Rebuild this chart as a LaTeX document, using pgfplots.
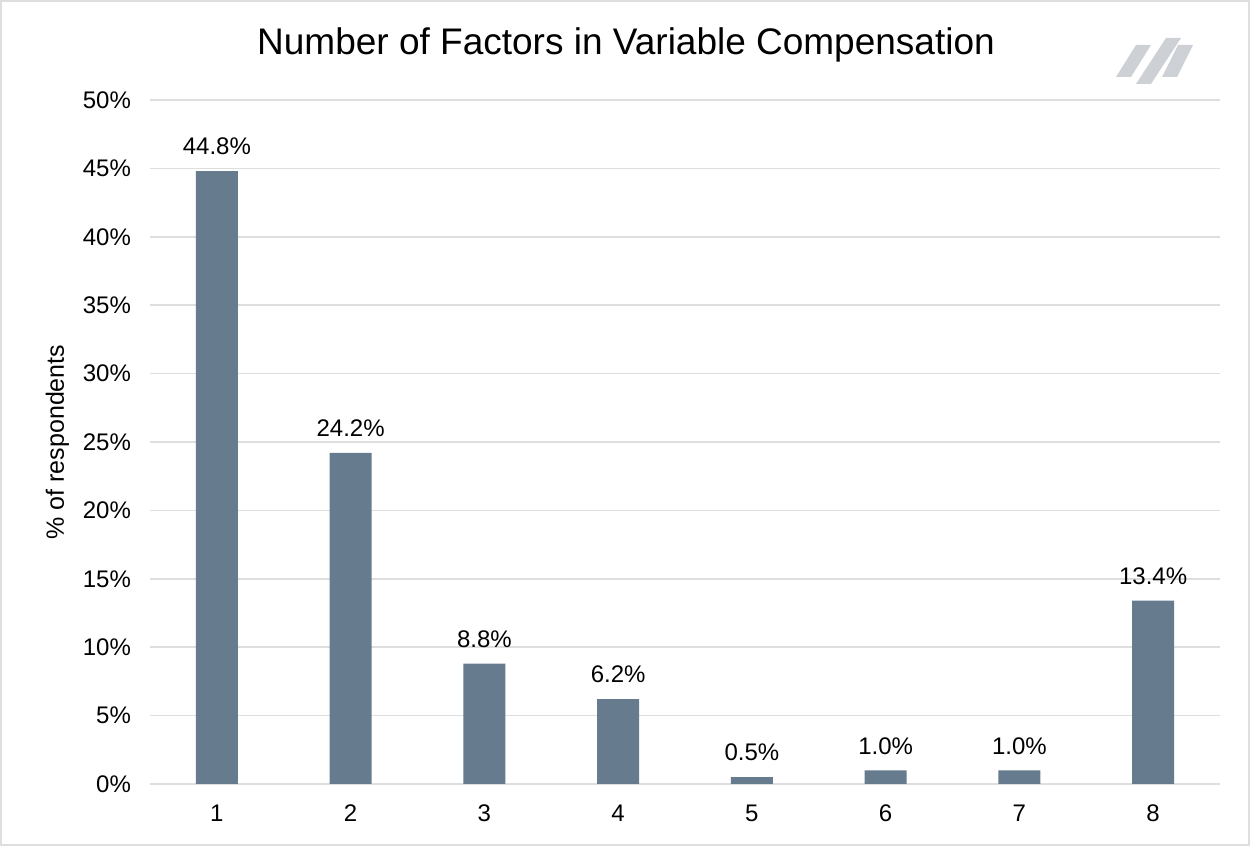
\documentclass[border=0pt]{standalone}
\usepackage{pgfplots}
\pgfplotsset{compat=1.18}
\usepackage{fontspec}
\setmainfont{Liberation Sans}
\definecolor{barc}{RGB}{102,123,142}
\definecolor{gridc}{RGB}{222,222,222}
\definecolor{logoc}{RGB}{205,209,213}
\begin{document}
\begin{tikzpicture}[x=0.5pt,y=0.5pt]
\useasboundingbox (0,0) rectangle (1250,846);
\draw[gridc,line width=1pt] (1,1) rectangle (1249,845);
% title
\node[font=\fontsize{18.5}{20}\selectfont] at (626,801) {Number of Factors in Variable Compensation};
% logo
\fill[logoc] (1116,769) -- (1131,769) -- (1151,801) -- (1136,801) -- cycle;
\fill[logoc] (1136,762) -- (1151,762) -- (1181,808) -- (1166,808) -- cycle;
\fill[logoc] (1162,769) -- (1177,769) -- (1193,801) -- (1178,801) -- cycle;
\begin{axis}[
  at={(150pt*0.5,62pt*0.5)}, anchor=south west,
  scale only axis,
  width=535pt, height=342pt,
  xmin=0.5, xmax=8.5, ymin=0, ymax=50,
  xtick={1,...,8}, ytick={0,5,...,50},
  yticklabel={\pgfmathprintnumber{\tick}\%},
  /pgf/number format/assume math mode=true,
  tick label style={font=\fontsize{12}{14}\selectfont, text=black},
  xticklabel style={yshift=-7pt},
  yticklabel style={xshift=-6pt},
  major tick length=0pt,
  axis line style={draw=none},
  ymajorgrids, grid style={gridc, line width=0.8pt},
  ylabel={\% of respondents},
  ylabel style={font=\fontsize{12.5}{14}\selectfont, yshift=0pt},
  ybar, bar width=21pt,
  nodes near coords={\pgfmathprintnumber[fixed,fixed zerofill,precision=1]{\pgfplotspointmeta}\%},
  every node near coord/.append style={font=\fontsize{12}{14}\selectfont, text=black, yshift=4.5pt},
  clip=false,
]
\addplot[fill=barc, draw=none] coordinates {(1,44.8) (2,24.2) (3,8.8) (4,6.2) (5,0.5) (6,1.0) (7,1.0) (8,13.4)};
\end{axis}
\end{tikzpicture}
\end{document}
